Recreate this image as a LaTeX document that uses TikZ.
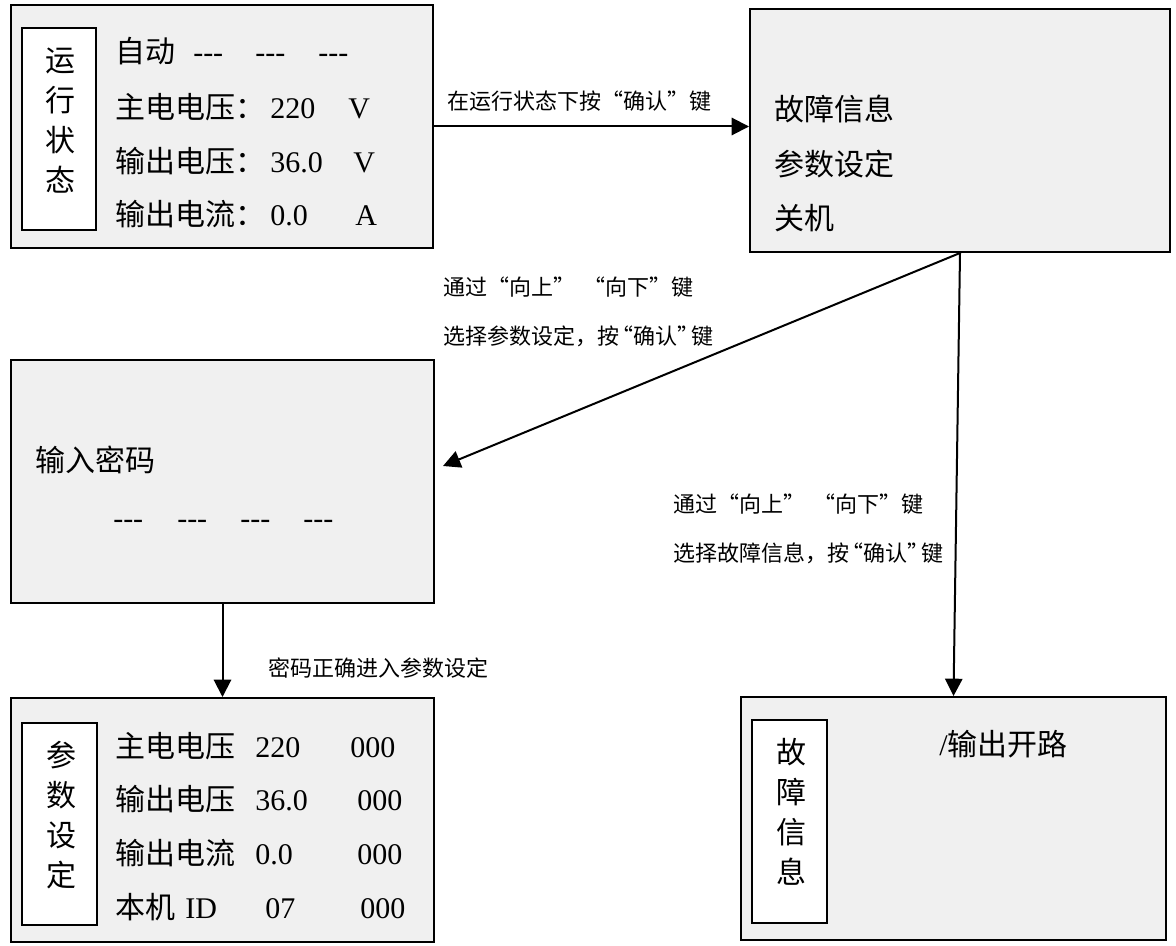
\documentclass[tikz,border=0pt]{standalone}
\usepackage{fontspec}
\setmainfont{Liberation Serif}
\newfontfamily\cjk{Noto Sans CJK SC}
\usetikzlibrary{arrows.meta}
\definecolor{panelgray}{RGB}{240,240,240}
\newcommand\ddd{-\kern0pt-\kern0pt-}
\newcommand\tightq[1]{\kern-6pt“#1”\kern-6pt}
\begin{document}
\begin{tikzpicture}[x=0.75pt,y=-0.75pt,
  panel/.style={draw=black, fill=panelgray, line width=1.5pt, inner sep=0pt},
  tagbox/.style={draw=black, fill=white, line width=1.5pt, inner sep=0pt},
  big/.style={font=\fontsize{22.5pt}{30pt}\selectfont, inner sep=0pt, anchor=base west},
  vert/.style={font=\cjk\fontsize{22.5pt}{30pt}\selectfont, inner sep=0pt, align=center},
  lab/.style={font=\cjk\fontsize{16.5pt}{20pt}\selectfont, inner sep=0pt, anchor=base west},
  conn/.style={line width=1.5pt, -{Triangle[length=13pt,width=13pt]}}
]
\useasboundingbox (0,0) rectangle (1176,945);

% panels
\node[panel, minimum width=316.5pt, minimum height=182.25pt] (box1) at (222,126.5) {};
\node[panel, minimum width=315pt, minimum height=182.25pt] (box2) at (960,130.5) {};
\node[panel, minimum width=317.25pt, minimum height=182.25pt] (box3) at (222.5,481.5) {};
\node[panel, minimum width=318.75pt, minimum height=182.25pt] (box4) at (953.5,818.5) {};
\node[panel, minimum width=317.25pt, minimum height=183pt] (box5) at (222.5,820) {};

% tag boxes
\node[tagbox, minimum width=55.5pt, minimum height=151.5pt] (tag1) at (59,129) {};
\node[tagbox, minimum width=56.25pt, minimum height=151.5pt] (tag5) at (59.5,824) {};
\node[tagbox, minimum width=56.25pt, minimum height=152.25pt] (tag4) at (789.5,821.5) {};

\node[vert] (v1) at (60,121) {运\\行\\状\\态};
\node[vert] (v5) at (61,815) {参\\数\\设\\定};
\node[vert] (v4) at (791,812) {故\\障\\信\\息};

% box1 text
\node[big] (r0a) at (115,63) {\cjk 自动};
\node[big] (r0b) at (193,63) {\ddd};
\node[big] (r0c) at (255,63) {\ddd};
\node[big] (r0d) at (318,63) {\ddd};
\node[big] (r1a) at (115,119) {\cjk 主电电压：};
\node[big] (r1b) at (270,119) {220};
\node[big] (r1c) at (348,119) {V};
\node[big] (r2a) at (115,172) {\cjk 输出电压：};
\node[big] (r2b) at (270,172) {36.0};
\node[big] (r2c) at (353,172) {V};
\node[big] (r3a) at (115,225.5) {\cjk 输出电流：};
\node[big] (r3b) at (270,225.5) {0.0};
\node[big] (r3c) at (355,225.5) {A};

% box2 text
\node[big] (m1) at (774,121) {\cjk 故障信息};
\node[big] (m2) at (774,175) {\cjk 参数设定};
\node[big] (m3) at (774,229) {\cjk 关机};

% box3 text
\node[big] (p1) at (35,471.5) {\cjk 输入密码};
\node[big] (p2) at (113,528) {\ddd};
\node[big] (p3) at (177,528) {\ddd};
\node[big] (p4) at (240,528) {\ddd};
\node[big] (p5) at (303,528) {\ddd};

% box5 text
\node[big] (s1a) at (115,757) {\cjk 主电电压};
\node[big] (s1b) at (255,757) {220};
\node[big] (s1c) at (350,757) {000};
\node[big] (s2a) at (115,810) {\cjk 输出电压};
\node[big] (s2b) at (255,810) {36.0};
\node[big] (s2c) at (357,810) {000};
\node[big] (s3a) at (115,864) {\cjk 输出电流};
\node[big] (s3b) at (255,864) {0.0};
\node[big] (s3c) at (357,864) {000};
\node[big] (s4a) at (115,918) {\cjk 本机};
\node[big] (s4b) at (185,918) {ID};
\node[big] (s4c) at (265,918) {07};
\node[big] (s4d) at (360,918) {000};

% box4 text
\node[big] (f1) at (939,755) {/\cjk 输出开路};

% labels
\node[lab] (l1) at (447,110) {在运行状态下按“确认”键};
\node[lab] (l2) at (443,295) {通过“向上”\hspace{6pt}“向下”键};
\node[lab] (l3) at (443,344) {选择参数设定，按\tightq{确认}键};
\node[lab] (l4) at (673,512) {通过“向上”\hspace{6pt}“向下”键};
\node[lab] (l5) at (673,561) {选择故障信息，按\tightq{确认}键};
\node[lab] (l6) at (268,676) {密码正确进入参数设定};

% connectors
\coordinate (tip3) at (443,466);
\draw[conn] (box1.east) -- (box1.east -| box2.west);
\draw[conn] (box2.south) -- (tip3);
\draw[conn] (box2.south) -- (box4.north);
\draw[conn] (box3.south) -- (box5.north);
\end{tikzpicture}
\end{document}
